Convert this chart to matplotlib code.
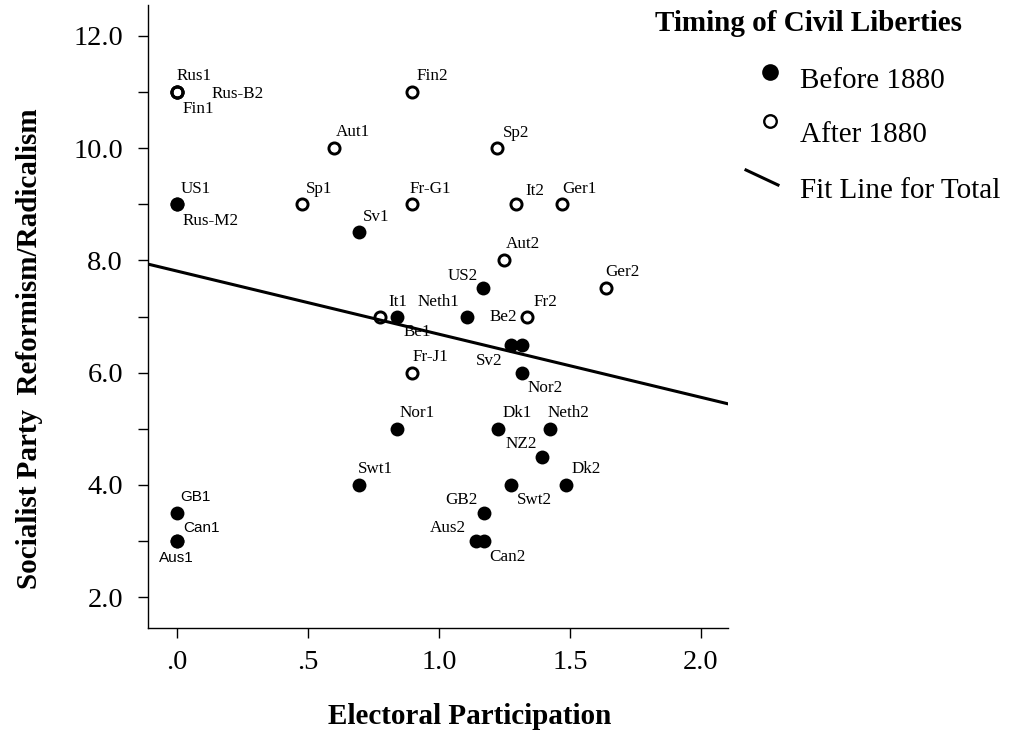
import numpy as np
import matplotlib
matplotlib.use("Agg")
import matplotlib.pyplot as plt
from matplotlib.lines import Line2D

plt.rcParams['font.family'] = ['Liberation Serif', 'DejaVu Serif']

# civil liberties before 1880 (filled markers)
before_names = ["US1", "Sv1", "US2", "Be1", "Neth1", "Sv2", "Be2", "Nor2", "Nor1", "Dk1",
                "Neth2", "NZ2", "Swt1", "Swt2", "Dk2", "GB2", "Aus2", "Can2", "GB1", "Can1", "Aus1"]
before_x = [0.0, 0.695, 1.17, 0.841, 1.109, 1.275, 1.318, 1.318, 0.841, 1.224,
            1.425, 1.393, 0.695, 1.274, 1.485, 1.172, 1.143, 1.172, 0.0, 0.0, 0.0]
before_y = [9.0, 8.5, 7.5, 7.0, 7.0, 6.5, 6.5, 6.0, 5.0, 5.0,
            5.0, 4.5, 4.0, 4.0, 4.0, 3.5, 3.0, 3.0, 3.5, 3.0, 3.0]

# civil liberties after 1880 (open markers)
after_names = ["Rus1", "Rus-B2", "Fin1", "Fin2", "Aut1", "Sp2", "Sp1", "Fr-G1", "It2", "Ger1",
               "Rus-M2", "Aut2", "Ger2", "It1", "Fr2", "Fr-J1"]
after_x = [0.0, 0.0, 0.0, 0.897, 0.6, 1.22, 0.477, 0.897, 1.294, 1.47,
           0.0, 1.248, 1.636, 0.775, 1.335, 0.897]
after_y = [11.0, 11.0, 11.0, 11.0, 10.0, 10.0, 9.0, 9.0, 9.0, 9.0,
           9.0, 8.0, 7.5, 7.0, 7.0, 6.0]

# fit line for total
fit_intercept = 7.81
fit_slope = -1.125

x_ticks = [0.0, 0.5, 1.0, 1.5, 2.0]
x_tick_labels = [".0", ".5", "1.0", "1.5", "2.0"]
y_ticks = [2.0, 4.0, 6.0, 8.0, 10.0, 12.0]
y_tick_labels = ["2.0", "4.0", "6.0", "8.0", "10.0", "12.0"]

# label placement: pixel offset (dx right, dy down) and alignment
label_pos = {
    "Rus1": (0, -16, "left"), "Rus-B2": (35, 2, "left"), "Fin1": (6, 17, "left"),
    "Fin2": (5, -16, "left"), "Aut1": (2, -16, "left"), "Sp2": (6, -15, "left"),
    "Sp1": (4, -15, "left"), "Fr-G1": (-2, -15, "left"), "It2": (9, -13, "left"),
    "Ger1": (0, -15, "left"), "Rus-M2": (6, 17, "left"), "Aut2": (2, -16, "left"),
    "Ger2": (0, -16, "left"), "It1": (8, -14, "left"), "Fr2": (7, -15, "left"),
    "Fr-J1": (1, -16, "left"),
    "US1": (4, -15, "left"), "Sv1": (4, -15, "left"), "US2": (-6, -12, "right"),
    "Be1": (6, 16, "left"), "Neth1": (-8, -14, "right"), "Sv2": (-8, 16, "right"),
    "Be2": (-5, -28, "right"), "Nor2": (5, 15, "left"), "Nor1": (2, -16, "left"),
    "Dk1": (5, -16, "left"), "Neth2": (-3, -16, "left"), "NZ2": (-5, -13, "right"),
    "Swt1": (-1, -16, "left"), "Swt2": (6, 15, "left"), "Dk2": (6, -16, "left"),
    "GB2": (-6, -13, "right"), "Aus2": (-10, -13, "right"), "Can2": (5, 16, "left"),
    "GB1": (3, -16, "left"), "Can1": (6, -13, "left"), "Aus1": (0, 17, "center"),
}
sans_labels = ["GB1", "Can1", "Aus1"]

fig = plt.figure(figsize=(10.13, 7.32), dpi=100)
ax = fig.add_axes([148 / 1013, 1 - 628 / 732, 580 / 1013, 623 / 732])

ax.set_xlim(-0.11, 2.103)
ax.set_ylim(1.45, 12.55)

# fit line
xs = np.array(ax.get_xlim())
ax.plot(xs, fit_intercept + fit_slope * xs, color="black", lw=2.2, zorder=2)

ax.plot(after_x, after_y, linestyle="none", marker="o", ms=8.0, mfc="none",
        mec="black", mew=2.1, zorder=3)
ax.plot(before_x, before_y, linestyle="none", marker="o", ms=10, mfc="black",
        mec="black", mew=0, zorder=4)

for names, xv, yv in [(before_names, before_x, before_y), (after_names, after_x, after_y)]:
    for n, x, y in zip(names, xv, yv):
        dx, dy, ha = label_pos[n]
        if n in sans_labels:
            fam, size = "Liberation Sans", 11
        else:
            fam, size = "Liberation Serif", 12.3
        ax.annotate(n, (x, y), xytext=(dx, -dy), textcoords="offset pixels",
                    ha=ha, va="center", fontsize=size, family=fam)

ax.spines["top"].set_visible(False)
ax.spines["right"].set_visible(False)
ax.spines["left"].set_linewidth(1.0)
ax.spines["bottom"].set_linewidth(1.0)

ax.set_xticks(x_ticks)
ax.set_xticklabels(x_tick_labels)
ax.set_yticks(y_ticks)
ax.set_yticklabels(y_tick_labels)
ax.set_yticks(np.arange(3, 12, 2), minor=True)
ax.tick_params(axis="x", direction="out", length=7, width=1, pad=9, labelsize=20.5)
ax.tick_params(axis="y", which="major", direction="out", length=7, width=1, pad=11, labelsize=20.5)
ax.tick_params(axis="y", which="minor", direction="out", length=7, width=1)

ax.set_xlabel("Electoral Participation", fontsize=21, fontweight="bold")
ax.set_ylabel("Socialist Party  Reformism/Radicalism", fontsize=21, fontweight="bold")
ax.xaxis.set_label_coords((470 - 148) / 580, (628 - 716) / 623)
ax.yaxis.set_label_coords((30 - 148) / 580, (628 - 349) / 623)
ax.xaxis.label.set_va("center")
ax.yaxis.label.set_va("center")

# legend drawn by hand in figure pixels
W, H = 1013, 732
fig.text(655 / W, 1 - 31 / H, "Timing of Civil Liberties", fontsize=21, fontweight="bold",
         va="baseline", ha="left")
fig.add_artist(Line2D([770 / W], [1 - 72 / H], marker="o", ms=12, mfc="black", mec="black",
                      mew=0, transform=fig.transFigure))
fig.text(800 / W, 1 - 88 / H, "Before 1880", fontsize=21, va="baseline", ha="left")
fig.add_artist(Line2D([770 / W], [1 - 121 / H], marker="o", ms=9, mfc="none", mec="black",
                      mew=1.7, transform=fig.transFigure))
fig.text(800 / W, 1 - 142 / H, "After 1880", fontsize=21, va="baseline", ha="left")
fig.add_artist(Line2D([746 / W, 778 / W], [1 - 170 / H, 1 - 185 / H], color="black", lw=2.2,
                      transform=fig.transFigure))
fig.text(800 / W, 1 - 198 / H, "Fit Line for Total", fontsize=21, va="baseline", ha="left")

fig.savefig("out.png", dpi=100)
